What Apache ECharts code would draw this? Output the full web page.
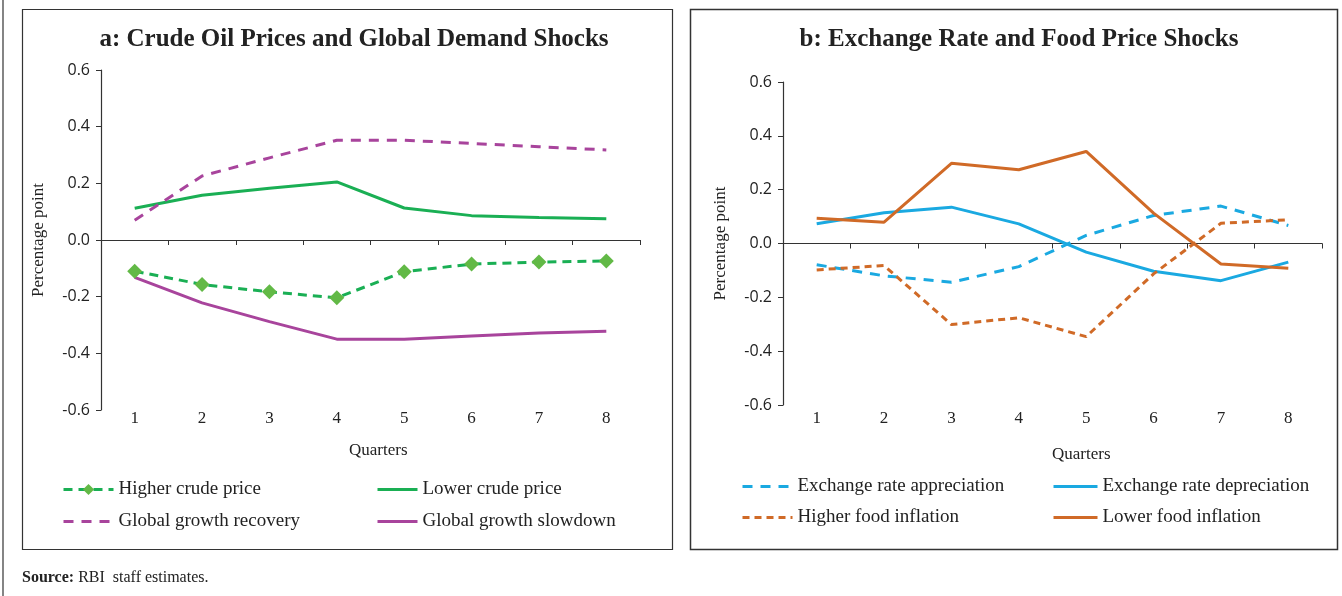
<!DOCTYPE html>
<html>
<head>
<meta charset="utf-8">
<script src="https://cdn.jsdelivr.net/npm/echarts@6.0.0/dist/echarts.min.js"></script>
<style>
  html, body { margin: 0; padding: 0; background: #fff; }
  #chart { width: 1342px; height: 596px; }
</style>
</head>
<body>
<div id="chart"></div>
<script>
// quarters on the x axis
const quarters = ['1', '2', '3', '4', '5', '6', '7', '8'];

// panel a: crude oil and global demand shocks
const higherCrude = [-0.11, -0.157, -0.183, -0.204, -0.112, -0.085, -0.078, -0.074];
const lowerCrude = [0.112, 0.158, 0.183, 0.205, 0.113, 0.086, 0.079, 0.075];
const growthRecovery = [0.07, 0.226, 0.29, 0.352, 0.352, 0.341, 0.329, 0.318];
const growthSlowdown = [-0.132, -0.222, -0.288, -0.35, -0.35, -0.339, -0.328, -0.322];

// panel b: exchange rate and food price shocks
const rateAppreciation = [-0.079, -0.12, -0.144, -0.086, 0.03, 0.104, 0.139, 0.067];
const rateDepreciation = [0.073, 0.114, 0.135, 0.073, -0.032, -0.103, -0.138, -0.069];
const higherFood = [-0.098, -0.082, -0.301, -0.276, -0.346, -0.113, 0.075, 0.088];
const lowerFood = [0.094, 0.079, 0.298, 0.274, 0.342, 0.113, -0.076, -0.092];

const serif = 'Liberation Serif';
const sans = 'Open Sans';
const green = '#1aaf54';
const diamond = '#62b946';
const purple = '#a8449c';
const blue = '#1aa9e1';
const orange = '#d06a27';

const chart = echarts.init(document.getElementById('chart'));

// x axis pair: one carries the labels at the bottom, the other the zero line with ticks
function xAxes(gridIndex, labelMargin) {
  return [
    {
      type: 'category', gridIndex, data: quarters, position: 'bottom',
      axisLine: { show: false, onZero: false },
      axisTick: { show: false },
      axisLabel: { fontFamily: serif, fontSize: 17, color: '#222', margin: labelMargin },
      splitLine: { show: false }
    },
    {
      type: 'category', gridIndex, data: quarters, position: 'bottom',
      axisLine: { show: true, onZero: true, lineStyle: { color: '#333', width: 1.2 } },
      axisTick: { show: true, length: 5, lineStyle: { color: '#333' } },
      axisLabel: { show: false },
      splitLine: { show: false }
    }
  ];
}

function yAxis(gridIndex) {
  return {
    type: 'value', gridIndex, min: -0.6, max: 0.6, interval: 0.2,
    name: 'Percentage point', nameLocation: 'middle', nameGap: 54,
    nameTextStyle: { fontFamily: serif, fontSize: 17, color: '#222' },
    axisLine: { show: true, lineStyle: { color: '#333', width: 1.2 } },
    axisTick: { show: true, length: 5, lineStyle: { color: '#333' } },
    axisLabel: { fontFamily: sans, fontSize: 16, color: '#222', margin: 11,
      formatter: v => v.toFixed(1) },
    splitLine: { show: false }
  };
}

function line(name, data, xi, yi, color, dashed, extra) {
  return Object.assign({
    name, type: 'line', data, xAxisIndex: xi, yAxisIndex: yi,
    symbol: 'none', smooth: false, animation: false,
    lineStyle: { color, width: 3, type: dashed || 'solid' },
    itemStyle: { color }
  }, extra || {});
}

// legend entry whose marker is hidden, leaving only the line sample
const plain = name => ({ name, itemStyle: { opacity: 0 } });

const legendText = { fontFamily: serif, fontSize: 19, color: '#222' };
const legendLine = { width: 3 };

chart.setOption({
  animation: false,
  title: [
    { text: 'a: Crude Oil Prices and Global Demand Shocks', left: 349, top: 22, textAlign: 'center',
      textStyle: { fontFamily: serif, fontSize: 25, fontWeight: 'bold', color: '#222' } },
    { text: 'b: Exchange Rate and Food Price Shocks', left: 1014, top: 22, textAlign: 'center',
      textStyle: { fontFamily: serif, fontSize: 25, fontWeight: 'bold', color: '#222' } }
  ],
  grid: [
    { left: 101, top: 70, width: 539, height: 340 },
    { left: 783, top: 82, width: 539, height: 323 }
  ],
  xAxis: [...xAxes(0, 0), ...xAxes(1, 5)],
  yAxis: [yAxis(0), yAxis(1)],
  legend: [
    { data: ['Higher crude price', plain('Global growth recovery')], orient: 'vertical', left: 57, top: 475,
      itemWidth: 50, itemHeight: 14, itemGap: 13, textStyle: legendText, lineStyle: legendLine },
    { data: [plain('Lower crude price'), plain('Global growth slowdown')], orient: 'vertical', left: 371, top: 475,
      itemWidth: 40, itemHeight: 14, itemGap: 13, textStyle: legendText, lineStyle: legendLine },
    { data: [plain('Exchange rate appreciation'), plain('Higher food inflation')], orient: 'vertical', left: 736, top: 472,
      itemWidth: 50, itemHeight: 14, itemGap: 12, textStyle: legendText, lineStyle: legendLine },
    { data: [plain('Exchange rate depreciation'), plain('Lower food inflation')], orient: 'vertical', left: 1047, top: 472,
      itemWidth: 44, itemHeight: 14, itemGap: 12, textStyle: legendText, lineStyle: legendLine }
  ],
  graphic: [
    { type: 'rect', shape: { x: 22.5, y: 9.5, width: 650, height: 540 },
      style: { fill: 'none', stroke: '#333', lineWidth: 1.2 }, silent: true },
    { type: 'rect', shape: { x: 690.5, y: 9.5, width: 647, height: 540 },
      style: { fill: 'none', stroke: '#333', lineWidth: 1.5 }, silent: true },
    { type: 'line', shape: { x1: 3, y1: 0, x2: 3, y2: 596 },
      style: { stroke: '#333', lineWidth: 1.2 }, silent: true },
    { type: 'text', left: 349, top: 442, style: { text: 'Quarters', font: '17px "Liberation Serif"', fill: '#222', textAlign: 'center' } },
    { type: 'text', left: 1052, top: 446, style: { text: 'Quarters', font: '17px "Liberation Serif"', fill: '#222', textAlign: 'center' } },
    { type: 'text', left: 22, top: 570,
      style: { text: '{b|Source:} RBI  staff estimates.', fill: '#222',
        rich: { b: { fontFamily: serif, fontSize: 16, fontWeight: 'bold', fill: '#222' } },
        font: '16px "Liberation Serif"' } }
  ],
  series: [
    line('Higher crude price', higherCrude, 0, 0, green, [9, 6],
      { symbol: 'diamond', symbolSize: 15, showSymbol: true, itemStyle: { color: diamond } }),
    line('Lower crude price', lowerCrude, 0, 0, green),
    line('Global growth recovery', growthRecovery, 0, 0, purple, [10, 8]),
    line('Global growth slowdown', growthSlowdown, 0, 0, purple),
    line('Exchange rate appreciation', rateAppreciation, 2, 1, blue, [10, 8]),
    line('Exchange rate depreciation', rateDepreciation, 2, 1, blue),
    line('Higher food inflation', higherFood, 2, 1, orange, [7, 5]),
    line('Lower food inflation', lowerFood, 2, 1, orange)
  ]
});
</script>
</body>
</html>
